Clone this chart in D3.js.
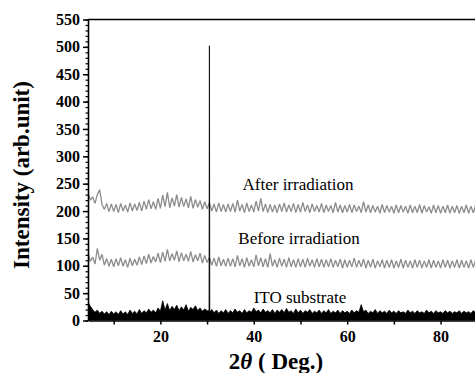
<!DOCTYPE html>
<html>
<head>
<meta charset="utf-8">
<script src="https://cdn.jsdelivr.net/npm/d3@7"></script>
<style>
  body { margin: 0; background: #fff; }
  svg { display: block; }
</style>
</head>
<body>
<div id="chart"></div>
<script>
// 2theta grid: 4.5 .. 90 deg, 0.5 deg step
const angleStart = 4.5;
const angleStep = 0.5;

const afterIrradiation = [
  234, 220, 226, 214, 230, 239, 212, 203, 214, 199,
  213, 199, 212, 197, 214, 200, 211, 198, 215, 200,
  213, 201, 216, 200, 218, 203, 221, 204, 217, 203,
  223, 205, 229, 208, 234, 206, 224, 209, 230, 207,
  225, 208, 222, 206, 227, 205, 221, 207, 219, 203,
  217, 204, 215, 200, 213, 198, 215, 199, 212, 198,
  213, 199, 214, 198, 220, 200, 212, 197, 215, 199,
  211, 198, 218, 200, 223, 199, 213, 197, 212, 198,
  211, 197, 213, 199, 215, 198, 211, 199, 214, 197,
  212, 198, 216, 199, 211, 197, 213, 199, 210, 198,
  214, 197, 211, 199, 210, 197, 216, 198, 211, 197,
  210, 198, 212, 197, 211, 199, 209, 197, 217, 198,
  211, 197, 210, 198, 209, 196, 212, 197, 210, 198,
  209, 196, 211, 197, 210, 198, 209, 196, 211, 197,
  209, 197, 212, 196, 210, 198, 208, 196, 211, 197,
  210, 196, 209, 197, 211, 196, 209, 197, 210, 196,
  209, 197, 211, 196, 209, 197, 210, 196, 209, 197,
  210, 197
];

const beforeIrradiation = [
  124, 108, 116, 103, 132, 110, 121, 101, 113, 99,
  112, 98, 113, 100, 115, 99, 111, 97, 114, 100,
  112, 101, 116, 102, 118, 104, 121, 105, 117, 107,
  123, 106, 125, 108, 130, 109, 122, 110, 127, 107,
  124, 109, 121, 108, 126, 107, 120, 109, 123, 105,
  119, 106, 115, 101, 114, 99, 116, 100, 112, 99,
  114, 99, 113, 98, 119, 100, 113, 97, 115, 99,
  111, 98, 120, 100, 115, 98, 113, 97, 122, 99,
  111, 97, 114, 99, 112, 97, 115, 98, 111, 97,
  113, 98, 112, 97, 114, 99, 111, 97, 113, 98,
  112, 97, 111, 98, 113, 97, 110, 98, 112, 96,
  111, 97, 110, 98, 114, 97, 110, 98, 112, 96,
  110, 97, 112, 96, 109, 98, 111, 96, 110, 97,
  111, 96, 109, 97, 112, 96, 110, 97, 109, 96,
  111, 97, 110, 96, 109, 97, 111, 96, 110, 97,
  109, 96, 111, 97, 110, 96, 109, 97, 111, 96,
  110, 97, 109, 96, 111, 97, 110, 96, 109, 97,
  110, 96
];

const itoSubstrate = [
  34, 26, 20, 15, 19, 13, 17, 12, 16, 11,
  17, 12, 16, 11, 18, 12, 16, 11, 19, 13,
  17, 12, 20, 13, 18, 14, 21, 15, 19, 14,
  23, 17, 36, 19, 31, 18, 26, 20, 28, 18,
  25, 19, 29, 17, 24, 20, 27, 18, 23, 17,
  21, 18, 502, 20, 14, 19, 13, 18, 14, 20,
  13, 18, 14, 21, 15, 18, 13, 20, 14, 18,
  15, 23, 16, 19, 14, 21, 15, 18, 14, 20,
  13, 19, 15, 20, 14, 22, 15, 18, 13, 21,
  14, 19, 13, 18, 15, 20, 13, 17, 14, 19,
  13, 18, 14, 20, 13, 17, 14, 19, 13, 18,
  14, 17, 13, 19, 14, 18, 15, 29, 16, 19,
  13, 17, 14, 20, 13, 18, 14, 17, 13, 19,
  14, 17, 13, 18, 14, 16, 13, 19, 14, 17,
  13, 18, 14, 16, 13, 19, 14, 17, 13, 18,
  14, 16, 13, 18, 14, 17, 13, 16, 14, 18,
  13, 17, 14, 16, 13, 18, 14, 17, 13, 16,
  14, 17
];

// shoulders of the narrow ITO reflection near 30.5 deg
const peakShoulderAngles = [30.42, 30.58];
const peakShoulderValues = [18, 16];

const xTicksAll = [10, 20, 30, 40, 50, 60, 70, 80, 90];
const xTickLabels = [20, 40, 60, 80];
const yTickLabels = [0, 50, 100, 150, 200, 250, 300, 350, 400, 450, 500, 550];
const seriesLabels = ['After irradiation', 'Before irradiation', 'ITO substrate'];

const width = 475;
const height = 373;
const plotLeft = 88;
const plotTop = 19.5;
const plotBottom = 320.5;
const serif = '"Liberation Serif", "Times New Roman", serif';

const x = d3.scaleLinear().domain([4.5, 90]).range([plotLeft, plotLeft + 85.5 * 4.67]);
const y = d3.scaleLinear().domain([0, 550]).range([plotBottom, plotTop]);

const toPoints = (vals) => vals.map((v, i) => [angleStart + i * angleStep, v]);

const svg = d3.select('#chart').append('svg')
  .attr('width', width)
  .attr('height', height)
  .style('font-family', serif);

svg.append('clipPath').attr('id', 'plot-clip')
  .append('rect')
  .attr('x', plotLeft)
  .attr('y', plotTop - 2)
  .attr('width', width - plotLeft)
  .attr('height', plotBottom - plotTop + 2);

const plot = svg.append('g').attr('clip-path', 'url(#plot-clip)');

const line = d3.line().x((d) => x(d[0])).y((d) => y(d[1]));

// gray patterns
[afterIrradiation, beforeIrradiation].forEach((vals) => {
  plot.append('path')
    .datum(toPoints(vals))
    .attr('fill', 'none')
    .attr('stroke', '#8c8c8c')
    .attr('stroke-width', 1.3)
    .attr('stroke-linejoin', 'bevel')
    .attr('d', line);
});

// ITO substrate, filled black
const itoPoints = toPoints(itoSubstrate)
  .concat(peakShoulderAngles.map((a, i) => [a, peakShoulderValues[i]]))
  .sort((a, b) => a[0] - b[0]);

plot.append('path')
  .datum(itoPoints)
  .attr('fill', '#000')
  .attr('stroke', '#000')
  .attr('stroke-width', 0.8)
  .attr('d', d3.area().x((d) => x(d[0])).y0(y(0)).y1((d) => y(d[1])));

// top frame
svg.append('line')
  .attr('x1', plotLeft).attr('x2', width)
  .attr('y1', y(550)).attr('y2', y(550))
  .attr('stroke', '#000').attr('stroke-width', 1.5);

const styleTicks = (g) => g.selectAll('.tick text')
  .style('font-family', serif)
  .style('font-size', '16px')
  .style('font-weight', 'bold');

// y axis: minor ticks every 10
svg.append('g')
  .attr('transform', `translate(${plotLeft},0)`)
  .call(d3.axisLeft(y).tickValues(d3.range(0, 551, 10)).tickSize(2.5).tickFormat(''))
  .call((g) => g.select('.domain').remove())
  .call((g) => g.selectAll('.tick line').attr('stroke-width', 1.2));

svg.append('g')
  .attr('transform', `translate(${plotLeft},0)`)
  .call(d3.axisLeft(y).tickValues(yTickLabels).tickSize(5).tickSizeOuter(0).tickPadding(3))
  .call(styleTicks)
  .call((g) => g.select('.domain').attr('stroke-width', 1.6))
  .call((g) => g.selectAll('.tick line').attr('stroke-width', 1.5));

// x axis
svg.append('g')
  .attr('transform', `translate(0,${plotBottom})`)
  .call(d3.axisBottom(x).tickValues(xTicksAll).tickSize(4).tickSizeOuter(0).tickPadding(6)
    .tickFormat((d) => (xTickLabels.includes(d) ? d : '')))
  .call(styleTicks)
  .call((g) => g.select('.domain').attr('stroke-width', 1.6))
  .call((g) => g.selectAll('.tick line').attr('stroke-width', 1.5));

// series labels
const labelPos = [[298, 190], [299, 244], [300, 303]];
seriesLabels.forEach((t, i) => {
  svg.append('text')
    .attr('x', labelPos[i][0])
    .attr('y', labelPos[i][1])
    .attr('text-anchor', 'middle')
    .style('font-size', '17px')
    .text(t);
});

// axis titles
const xTitle = svg.append('text')
  .attr('x', 276)
  .attr('y', 369)
  .attr('text-anchor', 'middle')
  .style('font-size', '23px')
  .style('font-weight', 'bold');
xTitle.append('tspan').text('2');
xTitle.append('tspan').style('font-style', 'italic').text('\u03B8');
xTitle.append('tspan').text(' ( Deg.)');

svg.append('text')
  .attr('transform', 'translate(29,175) rotate(-90)')
  .attr('text-anchor', 'middle')
  .style('font-size', '23px')
  .style('font-weight', 'bold')
  .text('Intensity (arb.unit)');
</script>
</body>
</html>
